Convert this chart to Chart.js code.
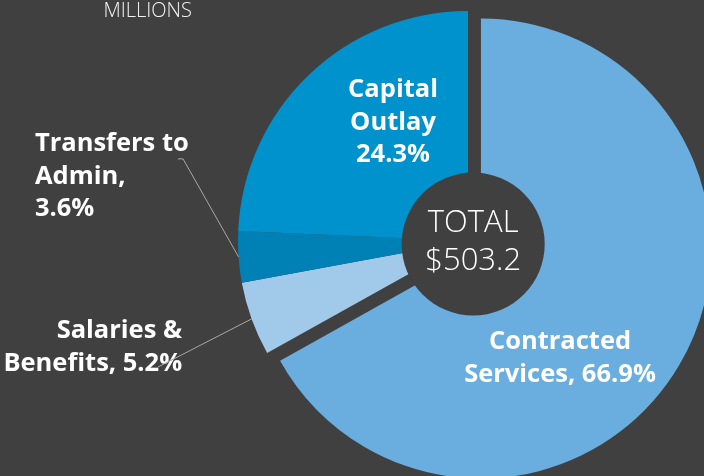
<!DOCTYPE html>
<html><head><meta charset="utf-8">
<script src="https://cdn.jsdelivr.net/npm/chart.js@4/dist/chart.umd.min.js"></script>
<style>html,body{margin:0;padding:0;background:#404040;overflow:hidden}#wrap{width:704px;height:476px;position:relative}</style>
</head><body><div id="wrap"><canvas id="c"></canvas></div>
<script>
// ---- data ----
const categories = ["Contracted Services", "Salaries & Benefits", "Transfers to Admin", "Capital Outlay"];
const shares = [66.9, 5.2, 3.6, 24.3];
const sliceLabels = [["Contracted", "Services, 66.9%"], ["Salaries &", "Benefits, 5.2%"], ["Transfers to", "Admin,", "3.6%"], ["Capital", "Outlay", "24.3%"]];
const totalLabel = ["TOTAL", "$503.2"];
const unitLabel = "MILLIONS";

// ---- styles / layout ----
const sliceColors = ["#69AEDF", "#A1C9EA", "#0081B5", "#0092CC"];
const explode = [15, 0, 0, 0];
// label positions in units of pie radius, relative to pie centre (y = first baseline)
const labelLayout = [
  {x: 0.400, y: 0.470, align: "center"},
  {x: -1.243, y: 0.422, align: "right", leader: [[-1.348, 0.548]]},
  {x: -1.883, y: -0.391, align: "left", leader: [[-1.261, -0.357], [-1.239, -0.357]]},
  {x: -0.326, y: -0.626, align: "center"}
];
const BOLD = '700 25.5px "Open Sans", sans-serif';
const LIGHT = '300 31px "Open Sans", sans-serif';
const LINE = 32.5;

class ExplodedPie extends Chart.PieController {
  draw() {
    const meta = this._cachedMeta, ctx = this.chart.ctx, ex = this.getDataset().explode || [];
    meta.data.forEach((arc, i) => {
      const d = ex[i] || 0, mid = (arc.startAngle + arc.endAngle) / 2;
      ctx.save();
      ctx.translate(Math.cos(mid) * d, Math.sin(mid) * d);
      arc.draw(ctx, this.chart.chartArea);
      ctx.restore();
    });
  }
}
ExplodedPie.id = "explodedPie";
Chart.register(ExplodedPie);

const deco = {
  id: "deco",
  afterDatasetsDraw(chart) {
    const ctx = chart.ctx, meta = chart.getDatasetMeta(0), arcs = meta.data;
    const a0 = arcs[0], cx = a0.x, cy = a0.y, R = a0.outerRadius;
    const m0 = (a0.startAngle + a0.endAngle) / 2;
    const ccx = cx + Math.cos(m0) * explode[0] * 0.4, ccy = cy + Math.sin(m0) * explode[0] * 0.4;
    ctx.save();
    ctx.fillStyle = "#404040";
    ctx.beginPath(); ctx.arc(ccx, ccy, R * 0.311, 0, Math.PI * 2); ctx.fill();
    // centre text
    ctx.fillStyle = "#FFFFFF"; ctx.font = LIGHT; ctx.textAlign = "center"; ctx.textBaseline = "alphabetic";
    ctx.fillText(totalLabel[0], ccx, ccy - 12.5);
    ctx.fillText(totalLabel[1], ccx, ccy + 25.5);
    // unit label
    ctx.fillStyle = "#F2F2F2"; ctx.font = '300 20px "Open Sans", sans-serif';
    ctx.fillText(unitLabel, cx - 1.393 * R, cy - 0.974 * R);
    // slice labels
    ctx.fillStyle = "#FFFFFF"; ctx.font = BOLD;
    labelLayout.forEach((L, i) => {
      ctx.textAlign = L.align;
      sliceLabels[i].forEach((t, k) => ctx.fillText(t, cx + L.x * R, cy + L.y * R + k * LINE));
    });
    // leader lines (drawn over the text, as in the original)
    ctx.strokeStyle = "#A8A8A8"; ctx.lineWidth = 1;
    labelLayout.forEach((L, i) => {
      if (!L.leader) return;
      const a = arcs[i], mid = (a.startAngle + a.endAngle) / 2;
      const pts = L.leader.map(p => [cx + p[0] * R, cy + p[1] * R]);
      pts.push([cx + Math.cos(mid) * R, cy + Math.sin(mid) * R]);
      ctx.beginPath(); ctx.moveTo(pts[0][0], pts[0][1]);
      for (let k = 1; k < pts.length; k++) ctx.lineTo(pts[k][0], pts[k][1]);
      ctx.stroke();
    });
    ctx.restore();
  }
};

new Chart(document.getElementById("c"), {
  type: "explodedPie",
  data: {
    labels: categories,
    datasets: [{data: shares, backgroundColor: sliceColors, borderWidth: 0, explode: explode, clip: false}]
  },
  options: {
    responsive: true, maintainAspectRatio: false, animation: false, events: [],
    radius: 230,
    layout: {padding: {left: 232, right: 0, top: 6, bottom: 0}},
    plugins: {legend: {display: false}, tooltip: {enabled: false}}
  },
  plugins: [deco]
});
</script>
</body></html>
